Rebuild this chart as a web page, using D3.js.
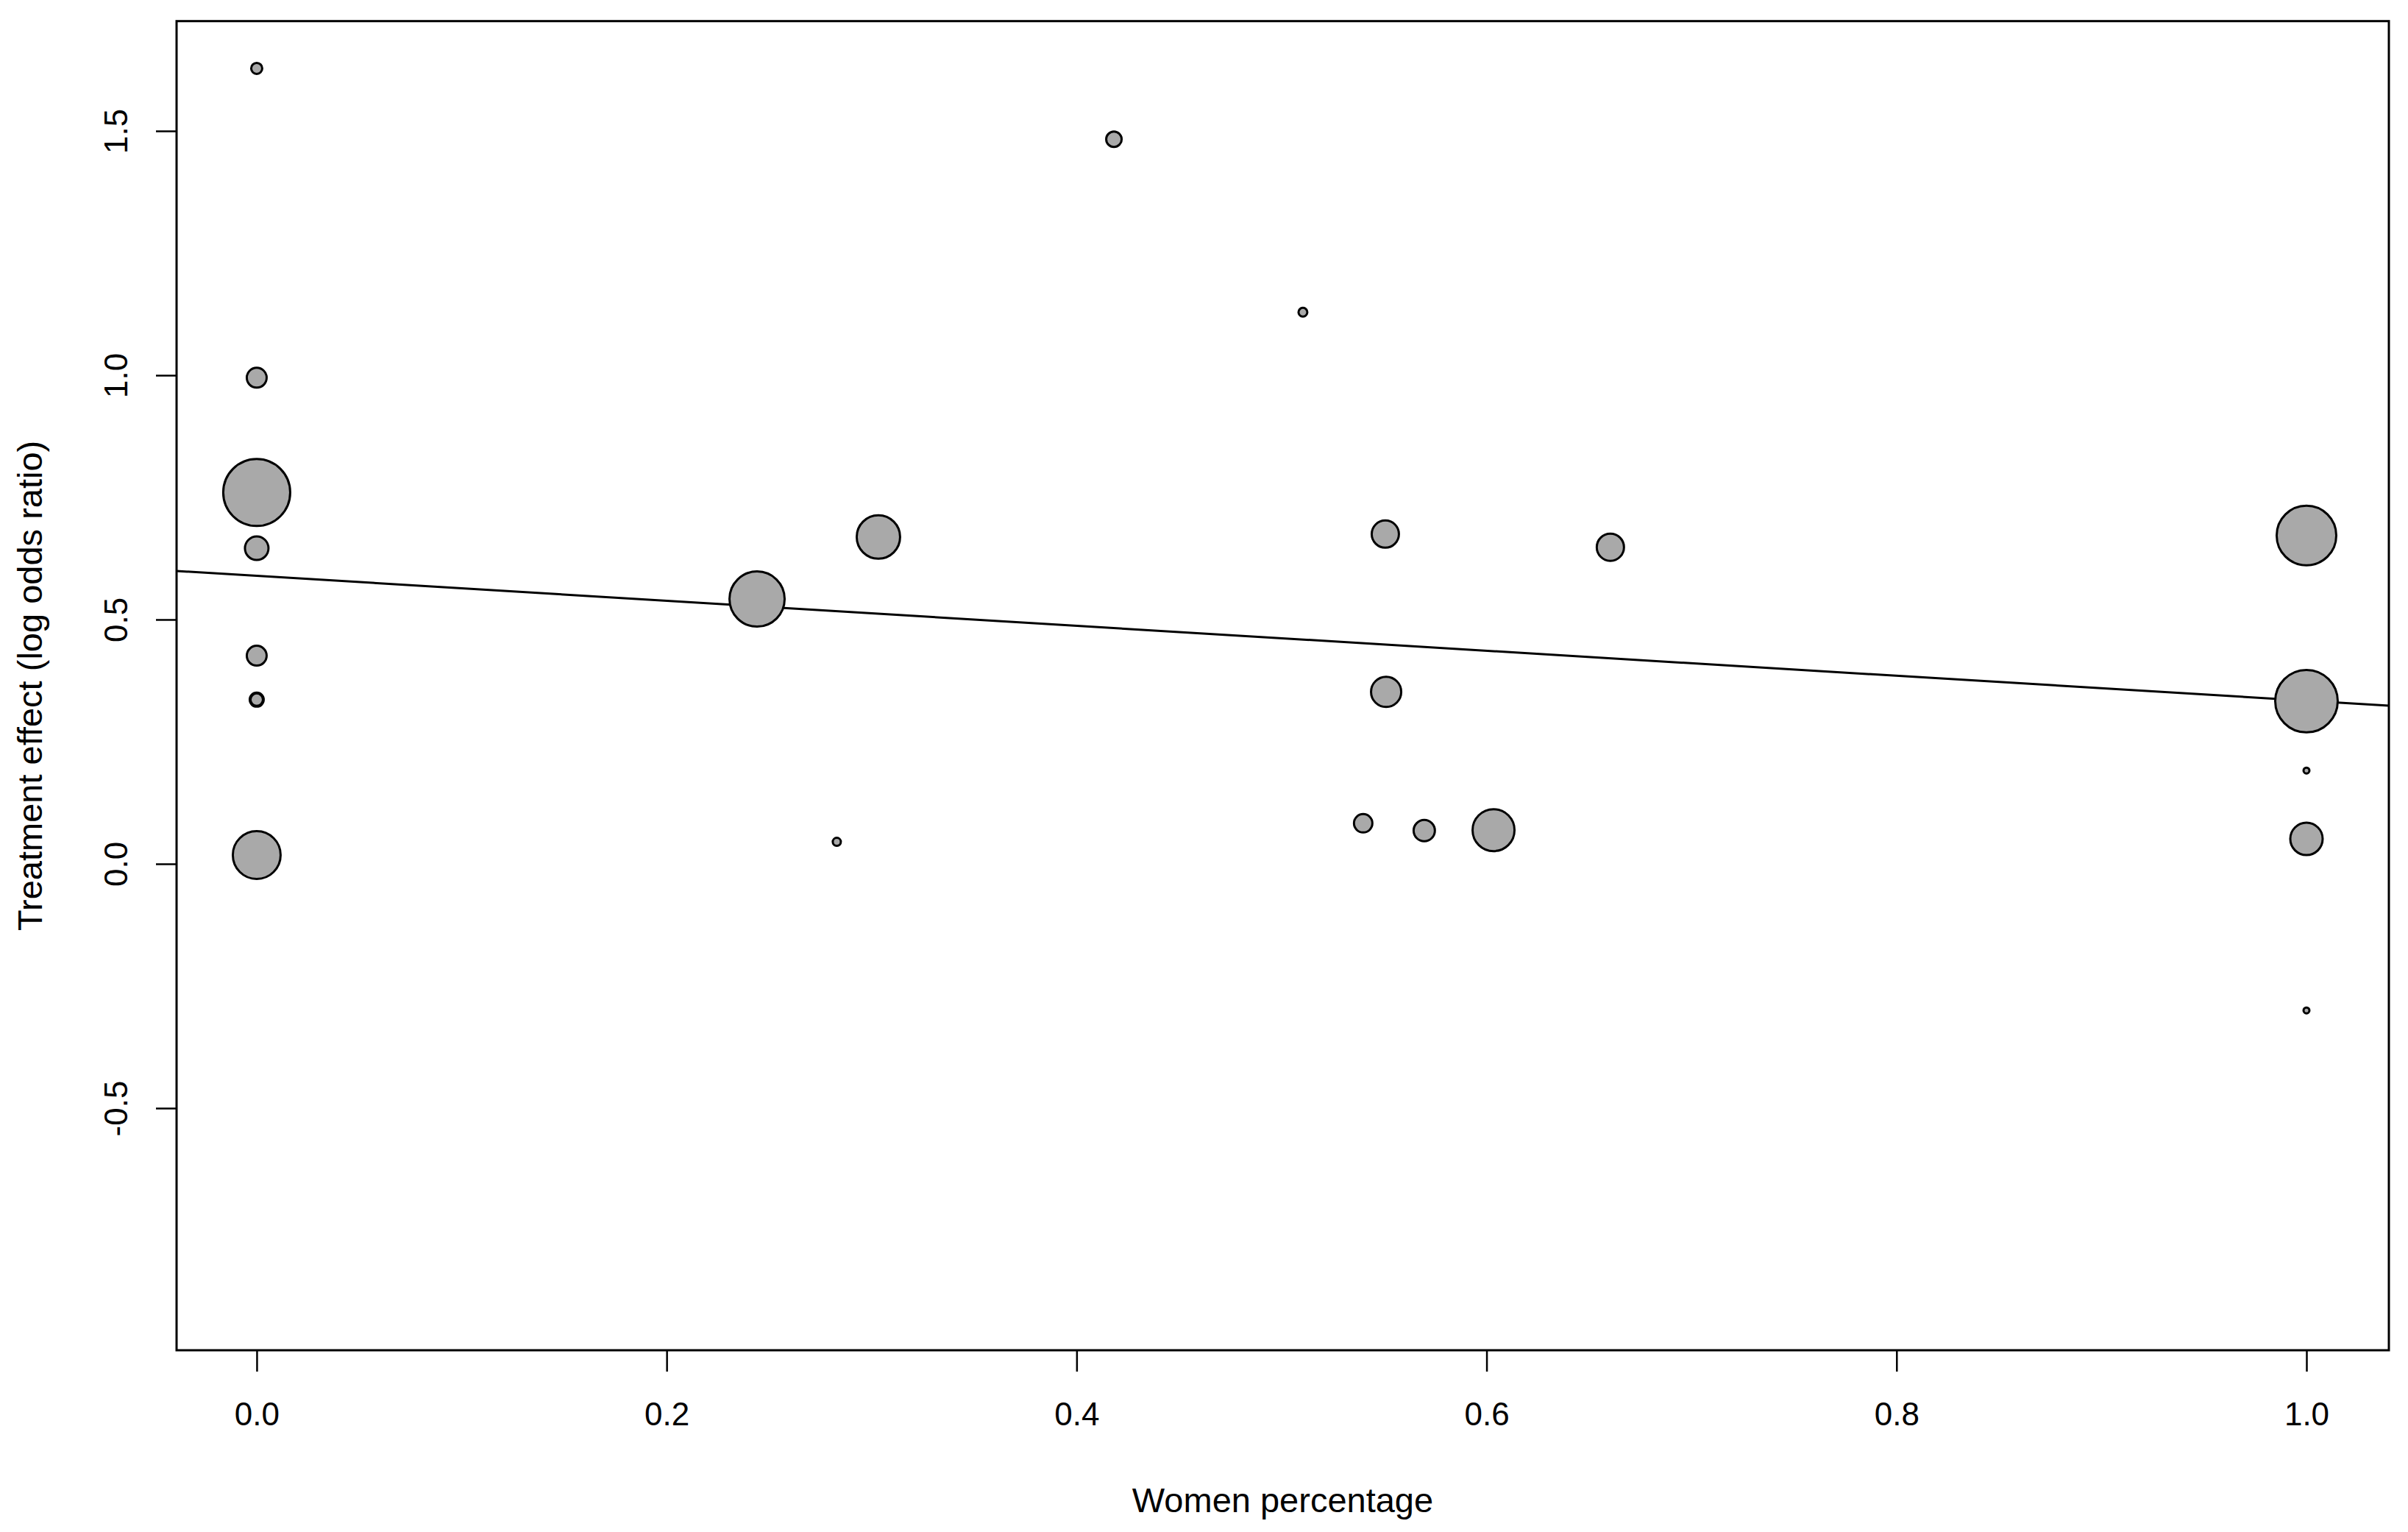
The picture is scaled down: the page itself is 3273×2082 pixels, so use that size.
<!DOCTYPE html>
<html>
<head>
<meta charset="utf-8">
<script src="https://cdn.jsdelivr.net/npm/d3@7"></script>
<style>
  html, body { margin: 0; padding: 0; background: #ffffff; }
  svg { display: block; }
</style>
</head>
<body>
<script>
// ---- data ----
const womenPct = [0, 0, 0, 0, 0, 0, 0, 0,
                  0.2441, 0.2830, 0.3033, 0.4182, 0.5104, 0.5398, 0.5506, 0.5510,
                  0.5696, 0.6034, 0.6604, 1.0, 1.0, 1.0, 1.0, 1.0];
const logOR    = [1.628, 0.995, 0.760, 0.646, 0.426, 0.336, 0.336, 0.018,
                  0.542, 0.045, 0.669, 1.483, 1.129, 0.083, 0.675, 0.352,
                  0.068, 0.069, 0.648, 0.672, 0.333, 0.191, 0.051, -0.300];
const weights  = [3.24, 9.0, 88.4, 12.25, 9.0, 4.84, 4.0, 46.2,
                  60.8, 1.96, 38.4, 5.76, 2.25, 7.84, 16.0, 19.4,
                  10.2, 36.0, 16.0, 70.6, 77.4, 1.21, 22.1, 1.21];
const xTickValues = [0, 0.2, 0.4, 0.6, 0.8, 1.0];
const yTickValues = [-0.5, 0, 0.5, 1.0, 1.5];
const fitIntercept = 0.5895;
const fitSlope = -0.2556;
const xLabelText = "Women percentage";
const yLabelText = "Treatment effect (log odds ratio)";

// ---- layout ----
const W = 3273, H = 2082;
const plot = { left: 240, right: 3247, top: 28.7, bottom: 1835 };
const FONT = "'Liberation Sans', Arial, Helvetica, sans-serif";
const fmt = d => d.toFixed(1);

const x = d3.scaleLinear().domain([-0.0391, 1.0402]).range([plot.left, plot.right]);
const y = d3.scaleLinear().domain([-0.9955, 1.7248]).range([plot.bottom, plot.top]);
const rScale = d3.scaleSqrt().domain([0, 1]).range([0, 5]);

const svg = d3.select("body").append("svg")
  .attr("width", W).attr("height", H)
  .attr("viewBox", `0 0 ${W} ${H}`);

svg.append("rect").attr("width", W).attr("height", H).attr("fill", "#ffffff");

svg.append("defs").append("clipPath").attr("id", "plotclip")
  .append("rect")
  .attr("x", plot.left).attr("y", plot.top)
  .attr("width", plot.right - plot.left).attr("height", plot.bottom - plot.top);

// regression line
const lineData = x.domain().map(v => ({ x: v, y: fitIntercept + fitSlope * v }));
svg.append("path")
  .datum(lineData)
  .attr("clip-path", "url(#plotclip)")
  .attr("fill", "none")
  .attr("stroke", "#000")
  .attr("stroke-width", 3)
  .attr("d", d3.line().x(d => x(d.x)).y(d => y(d.y)));

// points (larger first so smaller ones stay visible)
const pts = womenPct.map((v, i) => ({ x: v, y: logOR[i], w: weights[i] }))
  .sort((a, b) => b.w - a.w);
svg.append("g").selectAll("circle")
  .data(pts).join("circle")
  .attr("cx", d => x(d.x))
  .attr("cy", d => y(d.y))
  .attr("r", d => Math.max(rScale(d.w) - 1.5, 1))
  .attr("fill", "#a9a9a9")
  .attr("stroke", "#000")
  .attr("stroke-width", 3);

// x axis
const xAxis = svg.append("g")
  .attr("transform", `translate(0,${plot.bottom})`)
  .call(d3.axisBottom(x).tickValues(xTickValues).tickSize(29).tickSizeOuter(0)
    .tickFormat(fmt));
xAxis.select(".domain").remove();
xAxis.selectAll(".tick line").attr("stroke", "#000").attr("stroke-width", 2.5);
xAxis.selectAll(".tick text")
  .attr("dy", null)
  .attr("y", 1937 - plot.bottom)
  .attr("fill", "#000")
  .style("font-family", FONT)
  .style("font-size", "44px");

// y axis
const yAxis = svg.append("g")
  .attr("transform", `translate(${plot.left},0)`)
  .call(d3.axisLeft(y).tickValues(yTickValues).tickSize(28).tickSizeOuter(0)
    .tickFormat(fmt));
yAxis.select(".domain").remove();
yAxis.selectAll(".tick line").attr("stroke", "#000").attr("stroke-width", 2.5);
yAxis.selectAll(".tick text")
  .attr("x", null).attr("dy", null)
  .attr("text-anchor", "middle")
  .attr("transform", `translate(${173 - plot.left},0) rotate(-90)`)
  .attr("fill", "#000")
  .style("font-family", FONT)
  .style("font-size", "44px");

// frame
svg.append("rect")
  .attr("x", plot.left).attr("y", plot.top)
  .attr("width", plot.right - plot.left).attr("height", plot.bottom - plot.top)
  .attr("fill", "none").attr("stroke", "#000").attr("stroke-width", 3);

// axis titles
svg.append("text")
  .attr("x", (plot.left + plot.right) / 2)
  .attr("y", 2055)
  .attr("text-anchor", "middle")
  .attr("fill", "#000")
  .style("font-family", FONT)
  .style("font-size", "47px")
  .text(xLabelText);

svg.append("text")
  .attr("transform", `translate(57,${(plot.top + plot.bottom) / 2}) rotate(-90)`)
  .attr("text-anchor", "middle")
  .attr("fill", "#000")
  .style("font-family", FONT)
  .style("font-size", "47px")
  .text(yLabelText);
</script>
</body>
</html>
